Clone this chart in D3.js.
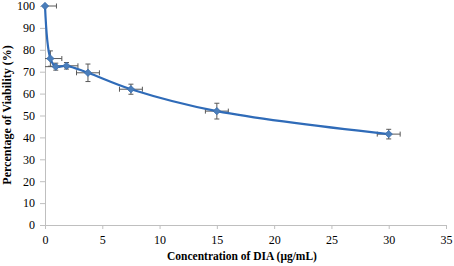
<!DOCTYPE html>
<html>
<head>
<meta charset="utf-8">
<script src="https://cdn.jsdelivr.net/npm/d3@7"></script>
<style>
  body { margin: 0; background: #fff; }
  svg { display: block; }
  .axis path, .axis line { stroke: #bfbfbf; }
  .axis text { font-family: 'Liberation Serif', 'Times New Roman', serif; font-size: 12px; fill: #000; }
</style>
</head>
<body>
<script>
let w = 454;
let h = 266;

let concentration = [0, 0.47, 0.94, 1.875, 3.75, 7.5, 15, 30];
let viability = [100, 76, 72.3, 72.7, 69.5, 62, 52, 41.5];
let yError = [0, 3.5, 1.6, 1.5, 4, 2.3, 3.6, 2.2];
let xError = [1, 1, 1, 1, 1, 1, 1, 1];
let xTicks = [0, 5, 10, 15, 20, 25, 30, 35];
let yTicks = [0, 10, 20, 30, 40, 50, 60, 70, 80, 90, 100];

let dataset = concentration.map((c, i) => {
  return { x: c, y: viability[i], ex: xError[i], ey: yError[i] };
});

let xScale = d3.scaleLinear()
  .domain([0, 35])
  .range([45, 446]);

let yScale = d3.scaleLinear()
  .domain([0, 100])
  .range([225, 6]);

let svg = d3.select('body')
  .append('svg')
  .attr('width', w)
  .attr('height', h);

let xAxis = d3.axisBottom()
  .scale(xScale)
  .tickValues(xTicks)
  .tickSizeOuter(0)
  .tickSize(4)
  .tickPadding(6);

let yAxis = d3.axisLeft()
  .scale(yScale)
  .tickValues(yTicks)
  .tickSizeOuter(0)
  .tickSize(5)
  .tickPadding(5);

svg.append('g')
  .attr('class', 'axis')
  .attr('transform', 'translate(0, ' + yScale(0) + ')')
  .call(xAxis);

svg.append('g')
  .attr('class', 'axis')
  .attr('transform', 'translate(' + xScale(0) + ', 0)')
  .call(yAxis);

// error bars
let errColor = '#595959';
let cap = 2.5;
let bars = svg.append('g').attr('stroke', errColor).attr('stroke-width', 1);

dataset.forEach((d) => {
  let cx = xScale(d.x);
  let cy = yScale(d.y);
  let x0 = xScale(Math.max(0, d.x - d.ex));
  let x1 = xScale(d.x + d.ex);
  bars.append('line').attr('x1', x0).attr('x2', x1).attr('y1', cy).attr('y2', cy);
  if (d.x - d.ex >= 0) {
    bars.append('line').attr('x1', x0).attr('x2', x0).attr('y1', cy - cap).attr('y2', cy + cap);
  }
  bars.append('line').attr('x1', x1).attr('x2', x1).attr('y1', cy - cap).attr('y2', cy + cap);
  if (d.ey > 0) {
    let y0 = yScale(d.y - d.ey);
    let y1 = yScale(d.y + d.ey);
    bars.append('line').attr('x1', cx).attr('x2', cx).attr('y1', y0).attr('y2', y1);
    bars.append('line').attr('x1', cx - cap).attr('x2', cx + cap).attr('y1', y0).attr('y2', y0);
    bars.append('line').attr('x1', cx - cap).attr('x2', cx + cap).attr('y1', y1).attr('y2', y1);
  }
});

let line = d3.line()
  .x((d) => { return xScale(d.x); })
  .y((d) => { return yScale(d.y); })
  .curve(d3.curveCatmullRom.alpha(0.5));

svg.append('path')
  .datum(dataset)
  .attr('d', line)
  .attr('fill', 'none')
  .attr('stroke', '#2f6bb8')
  .attr('stroke-width', 2.2);

let diamond = d3.symbol().type(d3.symbolDiamond2).size(34);

svg.selectAll('path.marker')
  .data(dataset)
  .enter()
  .append('path')
  .attr('class', 'marker')
  .attr('d', diamond)
  .attr('transform', (d) => { return 'translate(' + xScale(d.x) + ',' + yScale(d.y) + ')'; })
  .attr('fill', '#4a7ebb')
  .attr('stroke', '#3a6cab')
  .attr('stroke-width', 0.8);

svg.append('text')
  .attr('x', 242)
  .attr('y', 260)
  .attr('text-anchor', 'middle')
  .attr('font-family', 'Liberation Serif, Times New Roman, serif')
  .attr('font-weight', 'bold')
  .attr('font-size', '11.5px')
  .text('Concentration  of DIA (μg/mL)');

svg.append('text')
  .attr('transform', 'translate(11, 115) rotate(-90)')
  .attr('text-anchor', 'middle')
  .attr('font-family', 'Liberation Serif, Times New Roman, serif')
  .attr('font-weight', 'bold')
  .attr('font-size', '12px')
  .text('Percentage of Viability (%)');
</script>
</body>
</html>
